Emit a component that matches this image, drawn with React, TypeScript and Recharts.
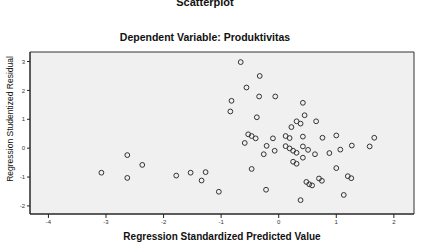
import { ScatterChart, Scatter, XAxis, YAxis, ReferenceArea, Label } from 'recharts';

const predicted = [
  -3.08, -2.63, -2.63, -2.37, -1.78, -1.53, -1.27, -1.34, -1.04,
  -0.66, -0.33, -0.56, -0.34, -0.06, -0.82, -0.84, -0.38, -0.53, -0.47, -0.4, -0.59, -0.1, -0.21, -0.07, -0.26, -0.47, -0.22,
  0.42, 0.45, 0.65, 0.31, 0.38, 0.22, 0.12, 0.19, 0.42, 0.76, 1.0, 1.66, 1.58, 1.27, 1.07, 0.88, 0.63,
  0.12, 0.19, 0.25, 0.31, 0.42, 0.51, 0.42, 0.25, 0.31, 1.0, 1.2, 1.26, 0.7, 0.75, 0.48, 0.53, 0.58, 1.13, 0.38,
];
const residual = [
  -0.85, -0.24, -1.03, -0.58, -0.95, -0.85, -0.83, -1.12, -1.51,
  2.98, 2.5, 2.1, 1.79, 1.79, 1.64, 1.27, 1.07, 0.48, 0.42, 0.34, 0.18, 0.34, 0.08, -0.09, -0.21, -0.72, -1.44,
  1.57, 1.14, 0.93, 0.93, 0.85, 0.73, 0.42, 0.35, 0.4, 0.36, 0.44, 0.36, 0.06, 0.09, -0.05, -0.17, -0.21,
  0.07, -0.01, -0.09, -0.16, 0.06, -0.06, -0.33, -0.47, -0.54, -0.69, -0.97, -1.04, -1.05, -1.13, -1.17, -1.25, -1.29, -1.62, -1.8,
];
const xTicks = [-4, -3, -2, -1, 0, 1, 2];
const yTicks = [-2, -1, 0, 1, 2, 3];

const points = predicted.map((x, i) => ({ x, y: residual[i] }));

const xDomain: [number, number] = [-4.32, 2.35];
const yDomain: [number, number] = [-2.28, 3.33];

const font = '"Liberation Sans", Arial, sans-serif';

const Ring = (props: any) => (
  <circle cx={props.cx} cy={props.cy} r={2.4} fill="none" stroke="#333" strokeWidth={1} />
);

export default function App() {
  return (
    <div style={{ position: 'absolute', left: 0, top: 0, width: 425, height: 242, background: '#fff', fontFamily: font, overflow: 'hidden' }}>
      <div style={{ position: 'absolute', top: -4, left: 0, width: 410, textAlign: 'center', fontWeight: 'bold', fontSize: 11, color: '#111' }}>
        Scatterplot
      </div>
      <div style={{ position: 'absolute', top: 31, left: 0, width: 410, textAlign: 'center', fontWeight: 'bold', fontSize: 10.5, color: '#111' }}>
        Dependent Variable: Produktivitas
      </div>
      <ScatterChart width={425} height={242} margin={{ top: 52, right: 11, bottom: 0, left: 0 }}>
        <ReferenceArea
          x1={xDomain[0]}
          x2={xDomain[1]}
          y1={yDomain[0]}
          y2={yDomain[1]}
          fill="#f0f0f0"
          fillOpacity={1}
          stroke="#333"
          strokeWidth={1}
          ifOverflow="visible"
        />
        <XAxis
          type="number"
          dataKey="x"
          domain={xDomain}
          ticks={xTicks}
          allowDataOverflow
          height={28}
          tickSize={4}
          axisLine={{ stroke: '#222' }}
          tickLine={{ stroke: '#222' }}
          tick={{ fontSize: 6, fill: '#333', fontFamily: font }}
        >
          <Label value="Regression Standardized Predicted Value" position="insideBottom" offset={2} style={{ fontSize: 10, fontWeight: 'bold', fill: '#111', fontFamily: font }} />
        </XAxis>
        <YAxis
          type="number"
          dataKey="y"
          domain={yDomain}
          ticks={yTicks}
          allowDataOverflow
          width={30}
          tickSize={3}
          axisLine={{ stroke: '#222' }}
          tickLine={{ stroke: '#222' }}
          tick={{ fontSize: 6, fill: '#333', fontFamily: font }}
        >
          <Label value="Regression Studentized Residual" angle={-90} position="insideLeft" offset={10} dy={-14} style={{ fontSize: 8.5, fill: '#111', fontFamily: font, textAnchor: 'middle' }} />
        </YAxis>
        <Scatter data={points} shape={Ring} isAnimationActive={false} />
      </ScatterChart>
    </div>
  );
}
